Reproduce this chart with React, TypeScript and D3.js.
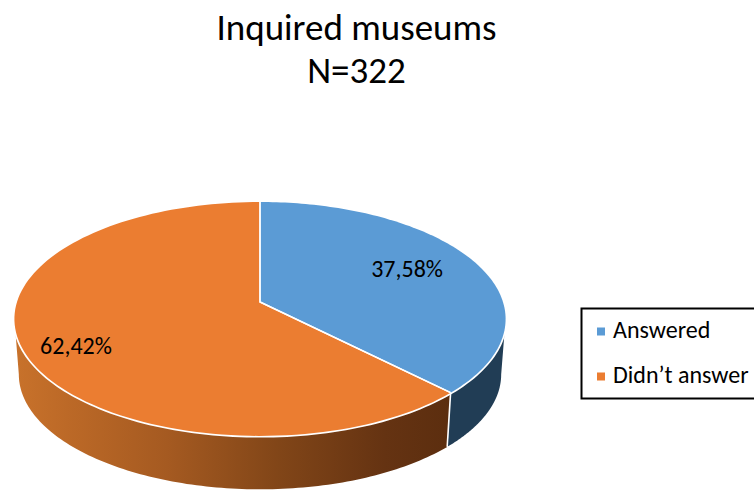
import React from "react";
import * as d3 from "d3";

const titleLines = ["Inquired museums", "N=322"];
const categories = ["Answered", "Didn’t answer"];
const values = [37.58, 62.42];
const labels = ["37,58%", "62,42%"];
const topColors = ["#5B9BD5", "#EB7D31"];
const sideColors = ["#213D55", "url(#orangeSide)"];
const sideStops: [number, string][] = [
  [0, "#C8722B"],
  [0.12, "#BC6927"],
  [0.35, "#A55A21"],
  [0.6, "#824618"],
  [0.85, "#653312"],
  [1, "#5C2E0F"],
];

const W = 754;
const H = 490;
const FONT = "Carlito, Lato, 'Open Sans', sans-serif";

// perspective projection of the unit pie disc onto the page
const K = -0.145;
function project(a: number, r: number, sx: number, sy: number, dy: number, s: number): [number, number] {
  const u = r * Math.sin(a);
  const v = -r * Math.cos(a);
  const w = 1 + K * v;
  const scaleX = d3.scaleLinear().domain([0, 1]).range([sx, sx + 243 * s]);
  const scaleY = d3.scaleLinear().domain([0, 1]).range([sy + dy, sy + dy + 114.5 * s]);
  return [scaleX(u / w), scaleY(v / w)];
}
const top = (a: number, r = 1) => project(a, r, 260, 302, 0, 1);
const bot = (a: number) => project(a, 1, 260, 302, 55.8, 0.982);
const line = d3.line();
const steps = (a0: number, a1: number) => d3.range(0, 121).map((i) => a0 + ((a1 - a0) * i) / 120);

const arcs = d3.pie<number>().sort(null)(values);
const frontStart = Math.acos(K); // silhouette tangent on the right
const frontEnd = 2 * Math.PI - frontStart; // silhouette tangent on the left
const labelOffset = [-0.03, -0.098];
const labelRadius = [0.69, 0.81];

export default function App() {
  return (
    <svg width={W} height={H} style={{ position: "absolute", left: 0, top: 0, background: "#fff" }}>
      <defs>
        <linearGradient id="orangeSide" gradientUnits="userSpaceOnUse" x1={15} x2={450} y1={0} y2={0}>
          {sideStops.map(([o, c]) => (
            <stop key={o} offset={o} stopColor={c} />
          ))}
        </linearGradient>
      </defs>
      {titleLines.map((t, i) => (
        <text key={t} x={356.5} y={40 + i * 43} textAnchor="middle" fontFamily={FONT} fontSize={37} fill="#000">
          {t}
        </text>
      ))}

      {arcs.map((d, i) => {
        const a0 = Math.max(d.startAngle, frontStart);
        const a1 = Math.min(d.endAngle, frontEnd);
        const pts = [...steps(a0, a1).map((a) => top(a)), ...steps(a0, a1).reverse().map((a) => bot(a))];
        return <path key={i} d={line(pts) + "Z"} fill={sideColors[i]} />;
      })}
      {(() => {
        const a = arcs[0].endAngle;
        return <path d={line([top(a), bot(a)]) ?? ""} stroke="#fff" strokeWidth={1.6} fill="none" />;
      })()}
      <path
        d={line(steps(frontStart, frontEnd).map((a) => top(a))) ?? ""}
        fill="none"
        stroke="#fff"
        strokeWidth={3.4}
      />
      {arcs.map((d, i) => {
        const pts = [top(0, 0), ...steps(d.startAngle, d.endAngle).map((a) => top(a))];
        return <path key={i} d={line(pts) + "Z"} fill={topColors[i]} />;
      })}
      {arcs.map((d, i) => (
        <path key={i} d={line([top(d.startAngle), top(0, 0), top(d.endAngle)]) ?? ""} fill="none" stroke="#fff" strokeWidth={1.4} />
      ))}

      {arcs.map((d, i) => {
        const mid = (d.startAngle + d.endAngle) / 2;
        const [x, y] = top(mid + labelOffset[i], labelRadius[i]);
        return (
          <text key={i} x={x} y={y} textAnchor="middle" dominantBaseline="middle" fontFamily={FONT} fontSize={24} fill="#000">
            {labels[i]}
          </text>
        );
      })}

      <rect x={581.5} y={308.5} width={180} height={90} fill="#fff" stroke="#000" strokeWidth={2} />
      {categories.map((c, i) => (
        <g key={c}>
          <rect x={597} y={327.5 + i * 45} width={8} height={8} fill={topColors[i]} />
          <text x={613} y={338 + i * 45} fontFamily={FONT} fontSize={24} fill="#000">
            {c}
          </text>
        </g>
      ))}
    </svg>
  );
}
